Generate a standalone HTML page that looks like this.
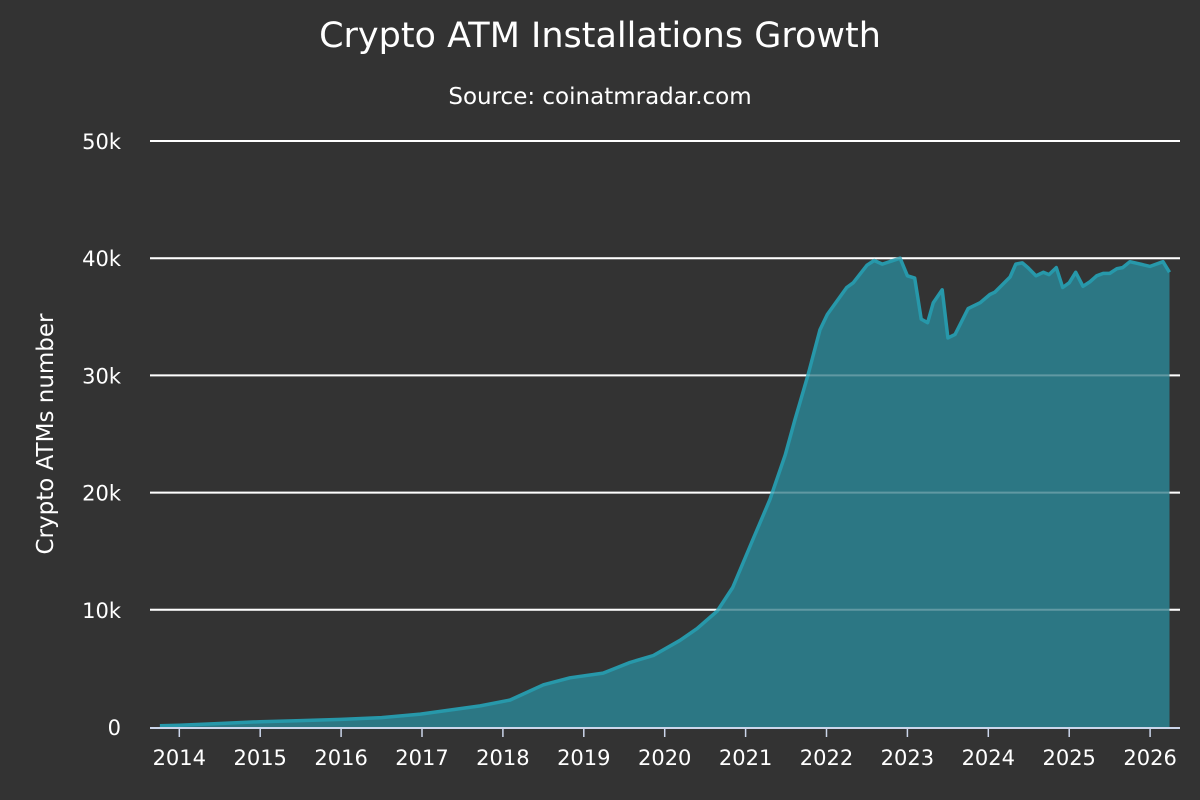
<!DOCTYPE html>
<html><head><meta charset="utf-8"><style>
html,body{margin:0;padding:0;background:#333333;}
svg{display:block;font-family:"DejaVu Sans","Liberation Sans",sans-serif;}
</style></head><body>
<svg id="chart" width="1200" height="800" viewBox="0 0 1200 800">
<rect width="1200" height="800" fill="#333333"/>
<text x="600" y="47" text-anchor="middle" fill="#ffffff" font-size="35">Crypto ATM Installations Growth</text>
<text x="600" y="104" text-anchor="middle" fill="#ffffff" font-size="23">Source: coinatmradar.com</text>
<text transform="translate(53,434) rotate(-90)" text-anchor="middle" fill="#ffffff" font-size="23">Crypto ATMs number</text>
<g id="grid"></g>
<g id="series"></g>
<g id="xaxis"></g>
</svg>
<script>
const years = [2013.76,2014.0,2014.5,2015.0,2015.5,2016.0,2016.5,2016.98,2017.72,2018.09,2018.5,2018.83,2019.24,2019.57,2019.86,2020.19,2020.4,2020.65,2020.84,2021.09,2021.3,2021.49,2021.61,2021.77,2021.92,2022.01,2022.25,2022.33,2022.5,2022.59,2022.69,2022.91,2023.0,2023.09,2023.17,2023.25,2023.32,2023.43,2023.5,2023.59,2023.75,2023.9,2024.02,2024.08,2024.27,2024.34,2024.42,2024.49,2024.59,2024.68,2024.75,2024.84,2024.92,2025.0,2025.08,2025.17,2025.26,2025.34,2025.42,2025.5,2025.59,2025.66,2025.75,2026.0,2026.16,2026.24];
const atms = [100,150,300,450,550,650,800,1100,1800,2300,3600,4200,4600,5500,6100,7400,8400,9900,11900,16000,19400,23200,26200,30000,33900,35200,37500,37900,39400,39800,39500,40000,38500,38300,34800,34500,36200,37300,33200,33500,35700,36200,36900,37100,38400,39500,39600,39200,38500,38800,38600,39200,37500,37900,38800,37600,38000,38500,38700,38700,39100,39200,39700,39300,39700,38800];
const yTicks = [0,10000,20000,30000,40000,50000];
const yTickLabels = ["0","10k","20k","30k","40k","50k"];
const xTicks = [2014,2015,2016,2017,2018,2019,2020,2021,2022,2023,2024,2025,2026];

const NS="http://www.w3.org/2000/svg";
const X0=179.3, YW=80.9, Y0=727, YMAX=50000, YTOP=141;
const xs=v=>X0+(v-2014)*YW;
const ys=v=>Y0-(v/YMAX)*(Y0-YTOP);
function mk(tag,attrs,parent){const e=document.createElementNS(NS,tag);for(const k in attrs)e.setAttribute(k,attrs[k]);parent.appendChild(e);return e;}
const grid=document.getElementById('grid');
yTicks.forEach((t,i)=>{
  if(t>0){const l=mk('line',{x1:150,x2:1180,y1:ys(t),y2:ys(t),stroke:'#ffffff','stroke-width':2},grid);
  
  }
  const tx=mk('text',{x:121,y:ys(t)+8,'text-anchor':'end',fill:'#ffffff','font-size':21},grid);
  tx.textContent=yTickLabels[i];
  
  
});
const ser=document.getElementById('series');
let d='M'+xs(years[0])+','+Y0;
years.forEach((y,i)=>{d+=' L'+xs(y).toFixed(1)+','+ys(atms[i]).toFixed(1);});
d+=' L'+xs(years[years.length-1])+','+Y0+' Z';
const area=mk('path',{d:d,fill:'#2c7784'},ser);


let ld='';
years.forEach((y,i)=>{ld+=(i?' L':'M')+xs(y).toFixed(1)+','+ys(atms[i]).toFixed(1);});
const line=mk('path',{d:ld,fill:'none',stroke:'#2798aa','stroke-width':3.5,'stroke-linejoin':'round'},ser);


yTicks.forEach(t=>{if(t>0){const l=mk('line',{x1:150,x2:1180,y1:ys(t),y2:ys(t),stroke:'#ffffff','stroke-opacity':0.25,'stroke-width':2},ser);

}});
const xa=document.getElementById('xaxis');
const ax=mk('line',{x1:150,x2:1180,y1:Y0+1,y2:Y0+1,stroke:'#ccd6eb','stroke-width':2},xa);


xTicks.forEach(t=>{
  const tk=mk('line',{x1:xs(t),x2:xs(t),y1:Y0,y2:Y0+10,stroke:'#ccd6eb','stroke-width':1.5},xa);
  
  
  const tx=mk('text',{x:xs(t),y:Y0+38,'text-anchor':'middle',fill:'#ffffff','font-size':21},xa);
  tx.textContent=t;
  
  
});
</script>
</body></html>
